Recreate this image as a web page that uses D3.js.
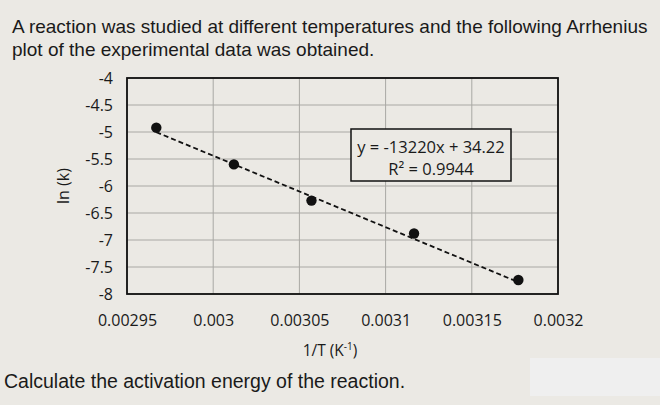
<!DOCTYPE html>
<html><head><meta charset="utf-8">
<script src="https://cdn.jsdelivr.net/npm/d3@7"></script>
<style>
html,body{margin:0;padding:0;background:#ebe9e4;}
svg{display:block;}
</style></head>
<body>
<svg id="chart" width="660" height="405"></svg>
<script>
const invT = [0.002967, 0.003012, 0.003057, 0.0031165, 0.003177];
const lnK = [-4.92, -5.60, -6.27, -6.88, -7.74];
const xTicks = [0.00295, 0.003, 0.00305, 0.0031, 0.00315, 0.0032];
const xTickLabels = ["0.00295", "0.003", "0.00305", "0.0031", "0.00315", "0.0032"];
const yTicks = [-4, -4.5, -5, -5.5, -6, -6.5, -7, -7.5, -8];
const slope = -13220, intercept = 34.22;
const eqLines = ["y = -13220x + 34.22", "R² = 0.9944"];
const titleLines = ["A reaction was studied at different temperatures and the following Arrhenius",
                    "plot of the experimental data was obtained."];
const question = "Calculate the activation energy of the reaction.";

const svg = d3.select("#chart");
const W = 660, H = 405;
const m = {left:127, right:558, top:78, bottom:294};
const x = d3.scaleLinear().domain([0.00295, 0.0032]).range([m.left, m.right]);
const y = d3.scaleLinear().domain([-8, -4]).range([m.bottom, m.top]);
const font = "'Open Sans', 'Liberation Sans', sans-serif";

svg.append("rect").attr("x",0).attr("y",0).attr("width",W).attr("height",H).attr("fill","#ebe9e4");
svg.append("rect").attr("x",530).attr("y",358).attr("width",130).attr("height",38).attr("fill","#efefef");

// title
svg.append("g").selectAll("text").data(titleLines).join("text")
  .attr("x", 12).attr("y",(d,i)=>33+i*23)
  .attr("font-family","'Liberation Sans', Arial, sans-serif").attr("font-size",19)
  .attr("fill","#1a1a1a").text(d=>d);

// gridlines
const grid = svg.append("g");
grid.selectAll("line.h").data(yTicks).join("line").attr("class","h")
  .attr("x1",m.left).attr("x2",m.right).attr("y1",d=>y(d)).attr("y2",d=>y(d))
  .attr("stroke","#a9a8a4").attr("stroke-width",1);
grid.selectAll("line.v").data(xTicks).join("line").attr("class","v")
  .attr("x1",d=>x(d)).attr("x2",d=>x(d)).attr("y1",m.top).attr("y2",m.bottom)
  .attr("stroke","#a9a8a4").attr("stroke-width",1);

// border
svg.append("rect").attr("x",m.left).attr("y",m.top).attr("width",m.right-m.left).attr("height",m.bottom-m.top)
  .attr("fill","none").attr("stroke","#111").attr("stroke-width",1.8);

// y axis labels
const yAxis = d3.axisLeft(y).tickValues(yTicks).tickSize(0).tickPadding(14).tickFormat(d=>String(d));
const ya = svg.append("g").attr("transform",`translate(${m.left},0)`).call(yAxis);
ya.select(".domain").remove();
ya.selectAll("text").attr("font-family",font).attr("font-size",16).attr("fill","#1a1a1a");

// x axis labels
const xAxis = d3.axisBottom(x).tickValues(xTicks).tickSize(0).tickPadding(21).tickFormat((d,i)=>xTickLabels[i]);
const xa = svg.append("g").attr("transform",`translate(0,${m.bottom})`).call(xAxis);
xa.select(".domain").remove();
xa.selectAll("text").attr("font-family",font).attr("font-size",16).attr("fill","#1a1a1a");

// axis titles
const xt = svg.append("text").attr("x",330).attr("y",356).attr("text-anchor","middle")
  .attr("font-family",font).attr("font-size",15.5).attr("fill","#1a1a1a");
xt.append("tspan").text("1/T (K");
xt.append("tspan").attr("font-size",10).attr("dy",-6).text("-1");
xt.append("tspan").attr("dy",6).text(")");

svg.append("text").attr("transform","translate(69,186) rotate(-90)").attr("text-anchor","middle")
  .attr("font-family",font).attr("font-size",16).attr("fill","#1a1a1a").text("ln (k)");

// trendline
const xExt = d3.extent(invT);
svg.append("line")
  .attr("x1",x(xExt[0])).attr("y1",y(slope*xExt[0]+intercept))
  .attr("x2",x(xExt[1])).attr("y2",y(slope*xExt[1]+intercept))
  .attr("stroke","#111").attr("stroke-width",1.8).attr("stroke-dasharray","5,3");

// points
svg.append("g").selectAll("circle").data(invT).join("circle")
  .attr("cx",d=>x(d)).attr("cy",(d,i)=>y(lnK[i])).attr("r",5.2).attr("fill","#111");

// equation box
svg.append("rect").attr("x",351).attr("y",129).attr("width",160).attr("height",52)
  .attr("fill","#ebe9e4").attr("stroke","#111").attr("stroke-width",1.5);
const eq = svg.append("g");
eq.append("text").attr("x",431).attr("y",153).attr("text-anchor","middle")
  .attr("font-family",font).attr("font-size",16.5).attr("fill","#1a1a1a").text(eqLines[0]);
eq.append("text").attr("x",431).attr("y",175).attr("text-anchor","middle")
  .attr("font-family",font).attr("font-size",16.5).attr("fill","#1a1a1a").text(eqLines[1]);

// question
svg.append("text").attr("x",4).attr("y",388)
  .attr("font-family","'Liberation Sans', Arial, sans-serif").attr("font-size",19.5)
  .attr("fill","#1a1a1a").text(question);
</script>
</body></html>
